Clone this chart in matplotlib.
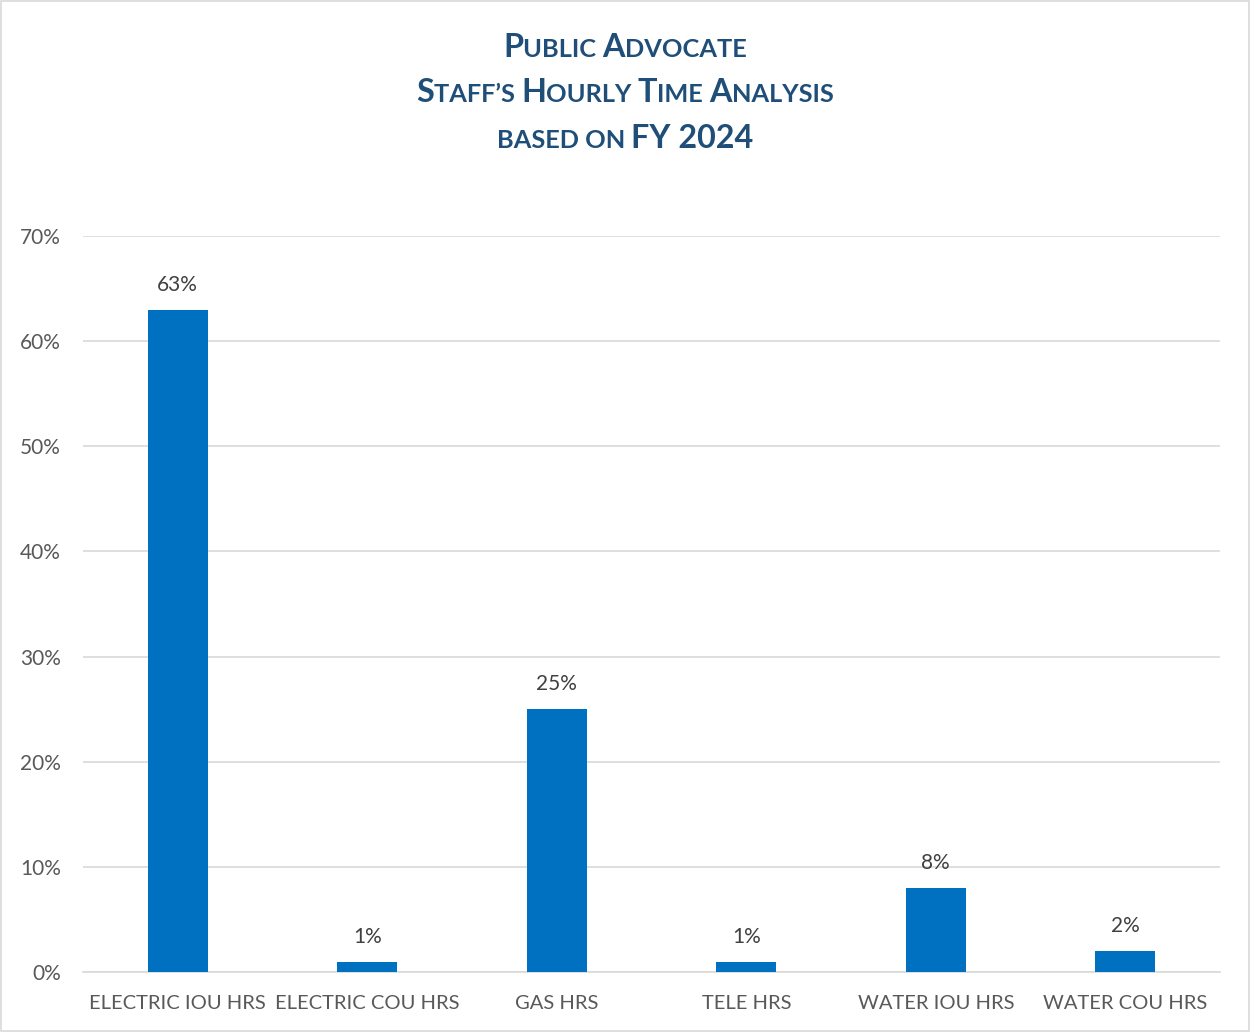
import numpy as np
import matplotlib
matplotlib.use("Agg")
import matplotlib.pyplot as plt
from matplotlib.patches import Rectangle

categories = ["ELECTRIC IOU HRS", "ELECTRIC COU HRS", "GAS HRS",
              "TELE HRS", "WATER IOU HRS", "WATER COU HRS"]
shares = [63, 1, 25, 1, 8, 2]
yticks = [0, 10, 20, 30, 40, 50, 60, 70]

BAR = "#0070C0"
GRAY = "#595959"
NAVY = "#1F4E79"
BIG, SMALL = 23.3, 18.3

# title lines as (text, size) pieces to fake small caps
title_lines = [
    [("P", BIG), ("UBLIC ", SMALL), ("A", BIG), ("DVOCATE", SMALL)],
    [("S", BIG), ("TAFF\u2019S ", SMALL), ("H", BIG), ("OURLY ", SMALL),
     ("T", BIG), ("IME ", SMALL), ("A", BIG), ("NALYSIS", SMALL)],
    [("BASED ON ", SMALL), ("FY 2024", BIG)],
]
title_y = [0.945, 0.901, 0.857]


def draw_pieces(fig, pieces, y):
    r = fig.canvas.get_renderer()
    texts = [fig.text(0, y, s, fontsize=sz, fontweight="bold", color=NAVY,
                      family="Lato", va="baseline", ha="left")
             for s, sz in pieces]
    widths = [t.get_window_extent(r).width for t in texts]
    W = fig.bbox.width
    x = (W - sum(widths)) / 2
    for t, w in zip(texts, widths):
        t.set_x(x / W)
        x += w


def main():
    plt.rcParams["font.family"] = "Lato"
    fig = plt.figure(figsize=(12.5, 10.32), dpi=100)
    fig.patches.append(Rectangle((0.001, 0.001), 0.998, 0.998, transform=fig.transFigure,
                                 fill=False, edgecolor="#D9D9D9", lw=1.2))
    ax = fig.add_axes([0.0664, 0.0581, 0.9096, 0.7132])

    x = np.arange(len(categories))
    bars = ax.bar(x, shares, width=0.315, color=BAR, zorder=3)
    for b, v in zip(bars, shares):
        ax.text(b.get_x() + b.get_width() / 2, v + 1.4, f"{v}%", ha="center",
                va="bottom", fontsize=15, color="#404040")

    ax.set_xlim(-0.5, len(categories) - 0.5)
    ax.set_ylim(0, 70)
    ax.set_yticks(yticks)
    ax.set_yticklabels([f"{t}%" for t in yticks])
    ax.set_xticks(x)
    ax.set_xticklabels(categories)
    ax.tick_params(axis="both", length=0, labelsize=14.5, labelcolor=GRAY)
    ax.tick_params(axis="y", pad=16, labelsize=15)
    ax.tick_params(axis="x", pad=16.5)
    ax.grid(axis="y", color="#D9D9D9", lw=1.2, zorder=0)
    for s in ["top", "right", "left"]:
        ax.spines[s].set_visible(False)
    ax.spines["bottom"].set_color("#D9D9D9")
    ax.spines["bottom"].set_linewidth(1.2)

    for pieces, y in zip(title_lines, title_y):
        draw_pieces(fig, pieces, y)

    fig.savefig("out.png", dpi=100)


if __name__ == "__main__":
    main()
